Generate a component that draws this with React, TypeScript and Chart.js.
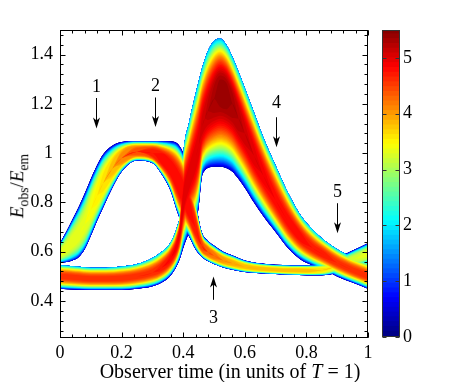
import React, { useEffect, useRef } from 'react';
import { Chart, registerables } from 'chart.js';

Chart.register(...registerables);

// ---------- axes ----------
const X_TICKS = [0, 0.2, 0.4, 0.6, 0.8, 1];
const Y_TICKS = [0.4, 0.6, 0.8, 1, 1.2, 1.4];
const X_MIN = 0;
const X_MAX = 1;
const Y_MIN = 0.25;
const Y_MAX = 1.5;
const MINOR_STEP = 0.04;
const CB_TICKS = [0, 1, 2, 3, 4, 5];
const CB_MAX = 5.5;

// ---------- curve A (lower band -> big peak) ----------
const aX = [0, 0.05, 0.1, 0.15, 0.2, 0.25, 0.3, 0.33, 0.36, 0.38, 0.39, 0.4, 0.42, 0.44, 0.45, 0.46, 0.47, 0.48, 0.5, 0.52, 0.54, 0.56, 0.58, 0.6, 0.63, 0.66, 0.7, 0.74, 0.78, 0.82, 0.86, 0.9, 0.95, 1.0];
const aHi = [0.545, 0.54, 0.535, 0.535, 0.54, 0.55, 0.575, 0.6, 0.64, 0.7, 0.76, 0.99, 1.13, 1.24, 1.29, 1.34, 1.38, 1.415, 1.455, 1.465, 1.44, 1.39, 1.33, 1.265, 1.165, 1.065, 0.95, 0.84, 0.75, 0.69, 0.645, 0.61, 0.578, 0.555];
const aCore = [0.5, 0.495, 0.49, 0.49, 0.492, 0.5, 0.515, 0.535, 0.575, 0.63, 0.69, 0.8, 0.9, 0.98, 1.03, 1.1, 1.14, 1.17, 1.22, 1.25, 1.24, 1.2, 1.14, 1.08, 0.99, 0.91, 0.81, 0.725, 0.66, 0.615, 0.585, 0.555, 0.525, 0.5];
const aLo = [0.45, 0.447, 0.445, 0.445, 0.445, 0.45, 0.46, 0.475, 0.505, 0.545, 0.575, 0.615, 0.68, 0.72, 0.78, 0.9, 0.93, 0.94, 0.945, 0.945, 0.94, 0.925, 0.895, 0.86, 0.8, 0.745, 0.68, 0.615, 0.57, 0.545, 0.525, 0.5, 0.475, 0.45];
const aPeak = [4.6, 4.6, 4.6, 4.6, 4.6, 4.6, 4.6, 4.7, 4.8, 4.9, 4.95, 5.0, 5.0, 5.0, 5.0, 5.05, 5.1, 5.15, 5.3, 5.4, 5.4, 5.3, 5.2, 5.1, 5.0, 4.9, 4.8, 4.8, 4.8, 4.7, 4.7, 4.6, 4.6, 4.6];
const aEdgeHi = 1.6;
const aEdgeLo = 0.4;
const aShape = 2.5;

// ---------- curve D (dome -> band 3 -> band 5) ----------
const dX = [0, 0.02, 0.04, 0.06, 0.08, 0.1, 0.12, 0.14, 0.17, 0.2, 0.25, 0.3, 0.33, 0.36, 0.38, 0.4, 0.42, 0.44, 0.46, 0.48, 0.5, 0.53, 0.56, 0.6, 0.65, 0.7, 0.75, 0.8, 0.85, 0.9, 0.95, 1.0];
const dHi = [0.635, 0.68, 0.73, 0.78, 0.835, 0.895, 0.95, 0.995, 1.03, 1.045, 1.05, 1.05, 1.05, 1.048, 1.04, 1.0, 0.91, 0.8, 0.68, 0.645, 0.625, 0.6, 0.585, 0.565, 0.553, 0.547, 0.545, 0.545, 0.55, 0.575, 0.605, 0.635];
const dCore = [0.591, 0.613, 0.639, 0.669, 0.711, 0.769, 0.826, 0.877, 0.937, 0.979, 1.006, 1.0, 0.976, 0.936, 0.889, 0.835, 0.773, 0.696, 0.625, 0.599, 0.584, 0.565, 0.553, 0.539, 0.531, 0.527, 0.524, 0.523, 0.525, 0.542, 0.567, 0.591];
const dLo = [0.555, 0.558, 0.565, 0.578, 0.61, 0.665, 0.725, 0.78, 0.86, 0.925, 0.97, 0.96, 0.915, 0.845, 0.765, 0.7, 0.66, 0.61, 0.58, 0.562, 0.55, 0.536, 0.527, 0.518, 0.513, 0.51, 0.507, 0.505, 0.505, 0.515, 0.535, 0.555];
const dPeak = [3.3, 3.3, 3.3, 3.3, 3.3, 3.4, 3.5, 3.6, 3.8, 4.1, 4.4, 4.7, 4.8, 4.8, 4.8, 4.8, 4.8, 4.7, 4.5, 4.3, 4.2, 4.0, 3.9, 3.8, 3.8, 3.8, 3.8, 3.8, 3.6, 3.3, 3.2, 3.3];
const dEdgeHi = 0.3;
const dEdgeLo = 0.5;
const dShape = 3.5;

// ---------- arrows ----------
const arrowLabels = ['1', '2', '3', '4', '5'];
const arrowX = [0.117, 0.308, 0.497, 0.7, 0.9];
const arrowFrom = [1.224, 1.226, 0.405, 1.146, 0.797];
const arrowTo = [1.1, 1.106, 0.5, 1.024, 0.675];
const arrowLabelY = [1.268, 1.272, 0.33, 1.203, 0.84];

const N_LEVELS = 56;
const CB_STEPS = 64;
const FONT = '"Liberation Serif", "Times New Roman", serif';

function jet(v: number): string {
  const c = (t: number) => Math.max(0, Math.min(1, t));
  const r = c(Math.min(4 * v - 1.5, -4 * v + 4.5));
  const g = c(Math.min(4 * v - 0.5, -4 * v + 3.5));
  const b = c(Math.min(4 * v + 0.5, -4 * v + 2.5));
  return `rgb(${Math.round(r * 255)},${Math.round(g * 255)},${Math.round(b * 255)})`;
}

// fraction of the half-band (core -> edge) where density >= level
function frac(level: number, edge: number, peak: number, shape: number): number {
  if (level <= edge) return 1;
  if (level >= peak) return 0;
  const r = (level - edge) / (peak - edge);
  return Math.pow(1 - r, 1 / shape);
}

type Curve = { x: number[]; hi: number[]; core: number[]; lo: number[]; peak: number[]; eHi: number; eLo: number; shape: number };

const curves: Curve[] = [
  { x: aX, hi: aHi, core: aCore, lo: aLo, peak: aPeak, eHi: aEdgeHi, eLo: aEdgeLo, shape: aShape },
  { x: dX, hi: dHi, core: dCore, lo: dLo, peak: dPeak, eHi: dEdgeHi, eLo: dEdgeLo, shape: dShape },
];

function buildDatasets() {
  const out: any[] = [];
  const step = CB_MAX / N_LEVELS;
  for (let k = 0; k < N_LEVELS; k++) {
    const level = k * step;
    const color = jet(Math.min(1, (level + step / 2) / CB_MAX));
    for (const c of curves) {
      const up: { x: number; y: number }[] = [];
      const dn: { x: number; y: number }[] = [];
      let any = false;
      c.x.forEach((x, i) => {
        const fu = frac(level, c.eHi, c.peak[i], c.shape);
        const fl = frac(level, c.eLo, c.peak[i], c.shape);
        if (fu > 0 || fl > 0) any = true;
        up.push({ x, y: c.core[i] + fu * (c.hi[i] - c.core[i]) });
        dn.push({ x, y: c.core[i] - fl * (c.core[i] - c.lo[i]) });
      });
      if (!any) continue;
      const common = {
        borderWidth: 0,
        pointRadius: 0,
        cubicInterpolationMode: 'monotone',
        order: N_LEVELS - k,
      };
      out.push({ ...common, data: up, fill: false, backgroundColor: color, borderColor: color });
      out.push({ ...common, data: dn, fill: '-1', backgroundColor: color, borderColor: color });
    }
  }
  return out;
}

function minorValues(majors: number[], min: number, max: number): number[] {
  const res: number[] = [];
  const start = majors[0];
  for (let v = start; v >= min - 1e-9; v -= MINOR_STEP) res.push(v);
  for (let v = start + MINOR_STEP; v <= max + 1e-9; v += MINOR_STEP) res.push(v);
  return res;
}

const mainDecor = {
  id: 'mainDecor',
  afterDatasetsDraw(chart: any) {
    const { ctx, chartArea: a } = chart;
    const xs = chart.scales.x;
    const ys = chart.scales.y;
    ctx.save();
    ctx.strokeStyle = '#000';
    ctx.fillStyle = '#000';
    ctx.lineWidth = 1;
    ctx.font = `18px ${FONT}`;
    ctx.textAlign = 'center';
    ctx.textBaseline = 'middle';
    arrowX.forEach((ax, i) => {
      const px = Math.round(xs.getPixelForValue(ax)) + 0.5;
      const p0 = ys.getPixelForValue(arrowFrom[i]);
      const p1 = ys.getPixelForValue(arrowTo[i]);
      const dir = Math.sign(p1 - p0);
      ctx.beginPath();
      ctx.moveTo(px, p0);
      ctx.lineTo(px, p1 - dir * 6);
      ctx.stroke();
      ctx.beginPath();
      ctx.moveTo(px, p1);
      ctx.lineTo(px - 3.5, p1 - dir * 11);
      ctx.lineTo(px, p1 - dir * 8);
      ctx.lineTo(px + 3.5, p1 - dir * 11);
      ctx.closePath();
      ctx.fill();
      ctx.fillText(arrowLabels[i], px, ys.getPixelForValue(arrowLabelY[i]));
    });
    const L = Math.round(a.left) + 0.5;
    const R = Math.round(a.right) - 0.5;
    const T = Math.round(a.top) + 0.5;
    const B = Math.round(a.bottom) - 0.5;
    ctx.strokeRect(L, T, R - L, B - T);
    const tick = (v: number, len: number, axis: 'x' | 'y') => {
      ctx.beginPath();
      if (axis === 'x') {
        const p = Math.round(xs.getPixelForValue(v)) + 0.5;
        ctx.moveTo(p, B); ctx.lineTo(p, B - len);
        ctx.moveTo(p, T); ctx.lineTo(p, T + len);
      } else {
        const p = Math.round(ys.getPixelForValue(v)) + 0.5;
        ctx.moveTo(L, p); ctx.lineTo(L + len, p);
        ctx.moveTo(R, p); ctx.lineTo(R - len, p);
      }
      ctx.stroke();
    };
    minorValues(X_TICKS, X_MIN, X_MAX).forEach((v) => tick(v, 3, 'x'));
    minorValues(Y_TICKS, Y_MIN, Y_MAX).forEach((v) => tick(v, 3, 'y'));
    X_TICKS.forEach((v) => tick(v, 5, 'x'));
    Y_TICKS.forEach((v) => tick(v, 5, 'y'));
    ctx.restore();
  },
};

const cbDecor = {
  id: 'cbDecor',
  afterDatasetsDraw(chart: any) {
    const { ctx, chartArea: a } = chart;
    const ys = chart.scales.y;
    ctx.save();
    ctx.strokeStyle = '#333';
    ctx.lineWidth = 1;
    const L = Math.round(a.left) + 0.5;
    const R = Math.round(a.right) - 0.5;
    const T = Math.round(a.top) + 0.5;
    const B = Math.round(a.bottom) - 0.5;
    ctx.strokeRect(L, T, R - L, B - T);
    CB_TICKS.forEach((v) => {
      const p = Math.round(ys.getPixelForValue(v)) + 0.5;
      ctx.beginPath();
      ctx.moveTo(L, p); ctx.lineTo(L + 4, p);
      ctx.moveTo(R, p); ctx.lineTo(R - 4, p);
      ctx.stroke();
    });
    ctx.restore();
  },
};

const fmt = (v: number) => String(+Number(v).toFixed(2));

export default function App() {
  const mainRef = useRef<HTMLCanvasElement>(null);
  const cbRef = useRef<HTMLCanvasElement>(null);

  useEffect(() => {
    const main = new Chart(mainRef.current as HTMLCanvasElement, {
      type: 'line',
      data: { datasets: buildDatasets() },
      options: {
        responsive: false,
        animation: false,
        events: [],
        layout: { padding: { left: 0, top: 30, right: 92, bottom: 0 } },
        plugins: { legend: { display: false }, tooltip: { enabled: false }, filler: { propagate: false } },
        scales: {
          x: {
            type: 'linear',
            min: X_MIN,
            max: X_MAX,
            grid: { display: false, drawTicks: false },
            border: { display: false },
            afterBuildTicks: (s: any) => { s.ticks = X_TICKS.map((value) => ({ value })); },
            afterFit: (s: any) => { s.height = 44; },
            ticks: { autoSkip: false, maxRotation: 0, padding: 4, color: '#000', font: { family: FONT, size: 18 }, callback: (v: any) => fmt(v) },
          },
          y: {
            type: 'linear',
            min: Y_MIN,
            max: Y_MAX,
            grid: { display: false, drawTicks: false },
            border: { display: false },
            afterBuildTicks: (s: any) => { s.ticks = Y_TICKS.map((value) => ({ value })); },
            afterFit: (s: any) => { s.width = 60; },
            ticks: { autoSkip: false, padding: 7, color: '#000', font: { family: FONT, size: 18 }, callback: (v: any) => fmt(v) },
          },
        },
      } as any,
      plugins: [mainDecor],
    });

    const cbSets = [];
    for (let i = 0; i < CB_STEPS; i++) {
      const lo = (i * CB_MAX) / CB_STEPS;
      const hi = Math.min(CB_MAX, ((i + 1) * CB_MAX) / CB_STEPS + 0.02);
      cbSets.push({
        data: [[lo, hi]],
        backgroundColor: jet((i + 0.5) / CB_STEPS),
        borderWidth: 0,
        grouped: false,
        barPercentage: 1,
        categoryPercentage: 1,
      });
    }
    const cb = new Chart(cbRef.current as HTMLCanvasElement, {
      type: 'bar',
      data: { labels: [''], datasets: cbSets as any },
      options: {
        responsive: false,
        animation: false,
        events: [],
        layout: { padding: { left: 12, top: 30, right: 0, bottom: 45 } },
        plugins: { legend: { display: false }, tooltip: { enabled: false } },
        scales: {
          x: { display: false },
          y: {
            position: 'right',
            min: 0,
            max: CB_MAX,
            grid: { display: false, drawTicks: false },
            border: { display: false },
            afterBuildTicks: (s: any) => { s.ticks = CB_TICKS.map((value) => ({ value })); },
            afterFit: (s: any) => { s.width = 60; },
            ticks: { autoSkip: false, padding: 3, color: '#000', font: { family: FONT, size: 18 }, callback: (v: any) => fmt(v) },
          },
        },
      } as any,
      plugins: [cbDecor],
    });

    return () => {
      main.destroy();
      cb.destroy();
    };
  }, []);

  return (
    <div style={{ position: 'absolute', left: 0, top: 0, width: 460, height: 382, background: '#fff', fontFamily: FONT, color: '#000' }}>
      <canvas ref={mainRef} width={460} height={382} style={{ position: 'absolute', left: 0, top: 0 }} />
      <canvas ref={cbRef} width={90} height={382} style={{ position: 'absolute', left: 370, top: 0 }} />
      <div
        style={{
          position: 'absolute',
          left: 19,
          top: 186,
          transform: 'translate(-50%, -50%) rotate(-90deg)',
          fontSize: 19,
          lineHeight: 1,
          whiteSpace: 'nowrap',
        }}
      >
        <i>E</i>
        <sub style={{ fontSize: '0.72em' }}>obs</sub>/<i>E</i>
        <sub style={{ fontSize: '0.72em' }}>em</sub>
      </div>
      <div
        style={{
          position: 'absolute',
          left: 230,
          top: 371,
          transform: 'translate(-50%, -50%)',
          fontSize: 20,
          lineHeight: 1,
          whiteSpace: 'nowrap',
        }}
      >
        Observer time (in units of <i>T</i> = 1)
      </div>
    </div>
  );
}
